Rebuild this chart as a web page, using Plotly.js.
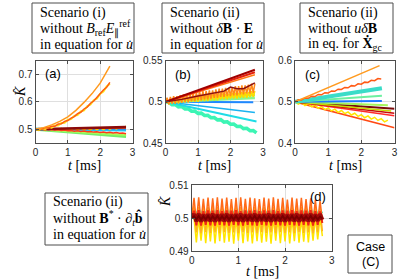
<!DOCTYPE html>
<html><head><meta charset="utf-8">
<script src="https://cdn.plot.ly/plotly-3.0.1.min.js"></script>
<style>html,body{margin:0;padding:0;background:#fff}#chart{width:399px;height:280px}</style>
</head><body><div id="chart"></div>
<script>
// ---------- shared time grids (ms) ----------
const T05 = [0,0.05,0.1,0.15,0.2,0.25,0.3,0.35,0.4,0.45,0.5,0.55,0.6,0.65,0.7,0.75,0.8,0.85,0.9,0.95,1,1.05,1.1,1.15,1.2,1.25,1.3,1.35,1.4,1.45,1.5,1.55,1.6,1.65,1.7,1.75,1.8,1.85,1.9,1.95,2,2.05,2.1,2.15,2.2,2.25,2.3,2.35,2.4,2.45,2.5,2.55,2.6,2.65,2.7,2.75,2.8];
const T10 = [0,0.1,0.2,0.3,0.4,0.5,0.6,0.7,0.8,0.9,1,1.1,1.2,1.3,1.4,1.5,1.6,1.7,1.8,1.9,2,2.1,2.2,2.3,2.4,2.5,2.6,2.7,2.8];

// ---------- tick labels ----------
const xTickVals = [0,1,2,3];
const xTickText = ['0','1','2','3'];
const aTickVals = [0.5,0.6,0.7];   const aTickText = ['0.5','0.6','0.7'];
const bTickVals = [0.45,0.5,0.55]; const bTickText = ['0.45','0.5','0.55'];
const cTickVals = [0.4,0.5,0.6];   const cTickText = ['0.4','0.5','0.6'];
const dTickVals = [0.49,0.5,0.51]; const dTickText = ['0.49','0.5','0.51'];

// ---------- panel (a) ----------
const a_t_orange = [0,0.25,0.5,0.75,1,1.25,1.5,1.75,2,2.3];
const a_orange = [0.5,0.506,0.516,0.529,0.545,0.569,0.598,0.630,0.668,0.730];
const a_orangezig = [0.500,0.503,0.501,0.506,0.505,0.511,0.511,0.519,0.520,0.529,0.532,0.541,0.546,0.557,0.562,0.574,0.581,0.595,0.603,0.617,0.627,0.643,0.653,0.671];
const a_yellowzig_hi = [0.500,0.499,0.503,0.501,0.508,0.506,0.514,0.514,0.523,0.524,0.535,0.537,0.549,0.552,0.565,0.569,0.584,0.590,0.606,0.612,0.630,0.638,0.656,0.666];
const a_t_end = [0,2.8];
const a_darkred = [0.5,0.508];
const a_red = [0.5,0.505];
const a_cyan = [0.5,0.497];
const a_blue = [0.5,0.4995];
const a_green = [0.5,0.474];
const a_lgreen = [0.5,0.479];
const a_yellowzig = [0.500,0.496,0.502,0.496,0.503,0.497,0.502,0.497,0.503,0.497,0.503,0.498,0.504,0.498,0.504,0.498,0.504,0.499,0.505,0.499,0.505,0.499,0.506,0.500,0.506,0.501,0.507,0.505,0.511];
const a_redzig = [0.5000,0.5014,0.4989,0.5003,0.4977,0.4992,0.4966,0.4980,0.4954,0.4969,0.4943,0.4957,0.4932,0.4946,0.4920,0.4935,0.4909,0.4923,0.4897,0.4912,0.4886,0.4900,0.4875,0.4889,0.4863,0.4878,0.4852,0.4866,0.4840];

// ---------- panel (b) ----------
const b_t_end = [0,2.75];
const b_darkred = [0.5,0.539];
const b_red = [0.5,0.536];
const b_orange = [0.5,0.533];
const b_t_brown = [0,0.5,1,1.5,1.8,2.0,2.2,2.4,2.6,2.75];
const b_brown = [0.5,0.503,0.507,0.511,0.513,0.518,0.516,0.516,0.520,0.523];
const b_orangezig = [0.500,0.505,0.497,0.506,0.498,0.507,0.498,0.507,0.499,0.508,0.499,0.509,0.500,0.509,0.500,0.510,0.501,0.511,0.501,0.511,0.502,0.512,0.502,0.513,0.503,0.513,0.503,0.514,0.504,0.514,0.505,0.515,0.505,0.516,0.506,0.516,0.506,0.517,0.507,0.517,0.507,0.518,0.508,0.519,0.508,0.519,0.509,0.520,0.509,0.520,0.510,0.521,0.510,0.522,0.511,0.522];
const b_yellowzig = [0.500,0.504,0.497,0.504,0.498,0.505,0.498,0.505,0.498,0.505,0.499,0.506,0.499,0.506,0.499,0.506,0.500,0.507,0.500,0.507,0.500,0.507,0.501,0.508,0.501,0.508,0.501,0.508,0.502,0.509,0.502,0.509,0.502,0.509,0.503,0.510,0.503,0.510,0.503,0.510,0.504,0.511,0.504,0.511,0.504,0.511,0.505,0.512,0.505,0.512,0.505,0.512,0.506,0.513,0.506,0.513];
const b_lime = [0.5,0.509];
const b_lgreen = [0.5,0.505];
const b_t_blue = [0,2.7];
const b_blue = [0.5,0.4995];
const b_sky = [0.5,0.487];
const b_t_cyan = [0,2.8];
const b_cyan = [0.5,0.476];
const b_aquazig = [0.5000,0.4995,0.4966,0.4968,0.4939,0.4942,0.4913,0.4916,0.4886,0.4889,0.4860,0.4863,0.4834,0.4836,0.4807,0.4810,0.4781,0.4784,0.4754,0.4757,0.4728,0.4731,0.4702,0.4704,0.4675,0.4678,0.4649,0.4652,0.4622];

// ---------- panel (c) ----------
const c_t_orange = [0,2.55];
const c_orange = [0.5,0.588];
const c_orangezig = [0.5000,0.5051,0.5043,0.5094,0.5086,0.5137,0.5128,0.5180,0.5171,0.5223,0.5214,0.5265,0.5257,0.5308,0.5300,0.5351,0.5342,0.5394,0.5385,0.5437,0.5428,0.5479,0.5471,0.5522,0.5514,0.5565,0.5556];
const c_t_mid = [0,2.62];
const c_teal = [0.5,0.533];
const c_mint = [0.5,0.515];
const c_blue = [0.5,0.502];
const c_t_lime = [0,2.8];
const c_lime = [0.5,0.492];
const c_t_olive = [0,2.9];
const c_olive = [0.5,0.478];
const c_t_full = [0,3];
const c_darkred = [0.5,0.483];
const c_red = [0.5,0.472];
const c_red2 = [0.5,0.466];
const c_yellowzig = [0.5000,0.4944,0.4987,0.4911,0.4954,0.4878,0.4921,0.4845,0.4888,0.4812,0.4855,0.4779,0.4822,0.4746,0.4789,0.4713,0.4756,0.4680,0.4723,0.4647,0.4690,0.4614,0.4657,0.4581,0.4624,0.4548,0.4591,0.4515,0.4558];
const c_t_low = [0,0.5,1,1.5,2,2.5,3];
const c_orangered = [0.5,0.4895,0.479,0.4685,0.458,0.4475,0.437];

// ---------- panel (d) ----------
const d_yellow = [0.5000,
0.5001,0.4926,0.4999,0.4931,0.5002,0.4924,0.4998,0.4929,0.5001,0.4923,
0.4999,0.4930,0.5002,0.4925,0.4998,0.4928,0.5001,0.4922,0.4999,0.4931,
0.5000,0.4924,0.5002,0.4929,0.4998,0.4923,0.5001,0.4930,0.4999,0.4925,
0.5002,0.4928,0.4998,0.4922,0.5001,0.4931,0.4999,0.4924,0.5000,0.4929,
0.5002,0.4923,0.4998,0.4930,0.5001,0.4925,0.4999,0.4928,0.5002,0.4926,
0.4999,0.4931,0.5001,0.4935,0.5000,0.4945];
const d_teal = [0.5000,
0.5030,0.5012,0.5031,0.5011,0.5029,0.5013,0.5032,0.5012,0.5030,0.5011,
0.5031,0.5013,0.5029,0.5012,0.5032,0.5011,0.5030,0.5013,0.5031,0.5012,
0.5029,0.5011,0.5032,0.5013,0.5030,0.5012,0.5031,0.5011,0.5029,0.5013,
0.5032,0.5012,0.5030,0.5011,0.5031,0.5013,0.5029,0.5012,0.5032,0.5011,
0.5030,0.5013,0.5031,0.5012,0.5029,0.5011,0.5032,0.5013,0.5030,0.5012,
0.5031,0.5011,0.5029,0.5013,0.5027,0.5015];
const d_lightorange = [0.5000,
0.5036,0.4956,0.5034,0.4954,0.5037,0.4957,0.5033,0.4955,0.5036,0.4956,
0.5034,0.4954,0.5037,0.4957,0.5035,0.4955,0.5033,0.4956,0.5036,0.4954,
0.5034,0.4957,0.5037,0.4955,0.5035,0.4956,0.5033,0.4954,0.5036,0.4957,
0.5034,0.4955,0.5037,0.4956,0.5035,0.4954,0.5033,0.4957,0.5036,0.4955,
0.5034,0.4956,0.5037,0.4954,0.5035,0.4957,0.5033,0.4955,0.5036,0.4956,
0.5034,0.4954,0.5035,0.4957,0.5032,0.4960];
const d_orange = [0.5000,
0.5061,0.4988,0.5063,0.4987,0.5058,0.4989,0.5062,0.4987,0.5060,0.4988,
0.5063,0.4986,0.5059,0.4988,0.5062,0.4987,0.5057,0.4989,0.5061,0.4987,
0.5063,0.4988,0.5058,0.4986,0.5062,0.4988,0.5060,0.4987,0.5057,0.4989,
0.5062,0.4987,0.5059,0.4988,0.5063,0.4986,0.5058,0.4988,0.5061,0.4987,
0.5056,0.4989,0.5062,0.4987,0.5059,0.4988,0.5061,0.4986,0.5057,0.4988,
0.5060,0.4987,0.5055,0.4989,0.5052,0.4992];
const d_red = [0.5000,
0.5022,0.4978,0.5024,0.4977,0.5021,0.4979,0.5023,0.4978,0.5022,0.4977,
0.5024,0.4979,0.5021,0.4978,0.5023,0.4977,0.5022,0.4979,0.5024,0.4978,
0.5021,0.4977,0.5023,0.4979,0.5022,0.4978,0.5024,0.4977,0.5021,0.4979,
0.5023,0.4978,0.5022,0.4977,0.5024,0.4979,0.5021,0.4978,0.5023,0.4977,
0.5022,0.4979,0.5024,0.4978,0.5021,0.4977,0.5023,0.4979,0.5022,0.4978,
0.5024,0.4977,0.5021,0.4979,0.5020,0.4985];
const d_dark = [0.5000,
0.5012,0.4990,0.5013,0.4989,0.5011,0.4991,0.5012,0.4990,0.5013,0.4989,
0.5011,0.4991,0.5012,0.4990,0.5013,0.4989,0.5011,0.4991,0.5012,0.4990,
0.5013,0.4989,0.5011,0.4991,0.5012,0.4990,0.5013,0.4989,0.5011,0.4991,
0.5012,0.4990,0.5013,0.4989,0.5011,0.4991,0.5012,0.4990,0.5013,0.4989,
0.5011,0.4991,0.5012,0.4990,0.5013,0.4989,0.5011,0.4991,0.5012,0.4990,
0.5013,0.4989,0.5011,0.4991,0.5012,0.4995];
const d_darker = [0.5000,
0.5005,0.4996,0.5006,0.4995,0.5005,0.4996,0.5006,0.4995,0.5005,0.4996,
0.5006,0.4995,0.5005,0.4996,0.5006,0.4995,0.5005,0.4996,0.5006,0.4995,
0.5005,0.4996,0.5006,0.4995,0.5005,0.4996,0.5006,0.4995,0.5005,0.4996,
0.5006,0.4995,0.5005,0.4996,0.5006,0.4995,0.5005,0.4996,0.5006,0.4995,
0.5005,0.4996,0.5006,0.4995,0.5005,0.4996,0.5006,0.4995,0.5005,0.4996,
0.5006,0.4995,0.5005,0.4996,0.5004,0.4998];

// ---------- build ----------
const W = 399, H = 280;
const px = v => v / W, py = v => 1 - v / H;
function ln(x, y, color, width, ax) {
  return {type:'scatter', mode:'lines', x:x, y:y, xaxis:'x'+ax, yaxis:'y'+ax,
          line:{color:color, width:width}, hoverinfo:'skip', showlegend:false};
}
const traces = [
  // (a)
  ln(a_t_end, a_green, '#74ee6a', 3, ''),
  ln(a_t_end, a_lgreen, '#a8fa5a', 2, ''),
  ln(a_t_end, a_cyan, '#22cdf5', 3, ''),
  ln(a_t_end, a_blue, '#2b95f0', 1.5, ''),
  ln(T10, a_yellowzig, '#ffe200', 1.5, ''),
  ln(T10, a_redzig, '#ff3b1a', 1.5, ''),
  ln(a_t_end, a_red, '#d02a10', 1.5, ''),
  ln(a_t_end, a_darkred, '#8c0a0a', 2.5, ''),
  ln(T10, a_yellowzig_hi, '#ffe81a', 2, ''),
  ln(T10, a_orangezig, '#ff5a14', 1.5, ''),
  ln(a_t_orange, a_orange, '#ff9a1f', 1.5, ''),
  // (b)
  ln(T10, b_aquazig, '#3cf5b4', 3.5, '2'),
  ln(b_t_cyan, b_cyan, '#1edce6', 2, '2'),
  ln(b_t_end, b_sky, '#1ab2f0', 1.5, '2'),
  ln(b_t_blue, b_blue, '#1e88ff', 2, '2'),
  ln(b_t_end, b_lgreen, '#8cf58c', 3, '2'),
  ln(b_t_end, b_lime, '#b8f540', 3, '2'),
  ln(T05, b_yellowzig, '#ffd900', 1.5, '2'),
  ln(T05, b_orangezig, '#ff8a1a', 1.5, '2'),
  ln(b_t_end, b_orange, '#ff7a14', 1.5, '2'),
  ln(b_t_end, b_red, '#e8210a', 2, '2'),
  ln(b_t_end, b_darkred, '#a00000', 2, '2'),
  ln(b_t_brown, b_brown, '#8b1010', 1.5, '2'),
  // (c)
  ln(c_t_low, c_orangered, '#ff4a14', 1.5, '3'),
  ln(T10, c_yellowzig, '#ffe600', 1.5, '3'),
  ln(c_t_full, c_red2, '#ff2a2a', 1.5, '3'),
  ln(c_t_full, c_red, '#c80a0a', 1.5, '3'),
  ln(c_t_full, c_darkred, '#7a0a0a', 2, '3'),
  ln(c_t_olive, c_olive, '#c8d800', 1.5, '3'),
  ln(c_t_lime, c_lime, '#a6f55a', 2, '3'),
  ln(c_t_mid, c_blue, '#1e78ff', 2, '3'),
  ln(c_t_mid, c_mint, '#6cf0a0', 2, '3'),
  ln(c_t_mid, c_teal, '#3adcc8', 4, '3'),
  ln(T10, c_orangezig, '#ff5a14', 1.5, '3'),
  ln(c_t_orange, c_orange, '#ff9a1f', 1.5, '3'),
  // (d)
  ln(T05, d_yellow, '#ffe600', 1.5, '4'),
  ln(T05, d_teal, '#3ce6b4', 1.5, '4'),
  ln(T05, d_lightorange, '#ffb020', 1.5, '4'),
  ln(T05, d_orange, '#ff6a1a', 1.5, '4'),
  ln(T05, d_red, '#f02814', 2, '4'),
  ln(T05, d_dark, '#a00a0a', 4, '4'),
  ln(T05, d_darker, '#780000', 2, '4')
];

const common = {
  showgrid:true, gridcolor:'#dfdfdf', gridwidth:1, zeroline:false,
  showline:true, linecolor:'#4d4d4d', linewidth:1, mirror:'ticks',
  ticks:'inside', ticklen:3, tickcolor:'#4d4d4d',
  tickfont:{family:'Liberation Sans, Arial, sans-serif', size:10, color:'#262626'},
  fixedrange:true
};
function xa(l, r, anchor) {
  return Object.assign({}, common, {domain:[px(l), px(r)], range:[0,3], anchor:anchor,
    tickmode:'array', tickvals:xTickVals, ticktext:xTickText});
}
function ya(t, b, rng, tv, tt, anchor) {
  return Object.assign({}, common, {domain:[py(b), py(t)], range:rng, anchor:anchor,
    tickmode:'array', tickvals:tv, ticktext:tt});
}
const TOP = 60.7, BOT = 143;
const layout = {
  width:W, height:H, margin:{l:0,r:0,t:0,b:0},
  paper_bgcolor:'#fff', plot_bgcolor:'#fff', showlegend:false,
  xaxis:  xa(35.5, 132.5, 'y'),
  yaxis:  ya(TOP, BOT, [0.45,0.75], aTickVals, aTickText, 'x'),
  xaxis2: xa(165.5, 263, 'y2'),
  yaxis2: ya(TOP, BOT, [0.45,0.55], bTickVals, bTickText, 'x2'),
  xaxis3: xa(295, 394.5, 'y3'),
  yaxis3: ya(TOP, BOT, [0.4,0.6], cTickVals, cTickText, 'x3'),
  xaxis4: xa(191.7, 331.7, 'y4'),
  yaxis4: ya(185, 251, [0.49,0.51], dTickVals, dTickText, 'x4'),
  shapes: [],
  annotations: []
};
function box(l, t, r, b) {
  layout.shapes.push({type:'rect', xref:'paper', yref:'paper', x0:px(l), x1:px(r), y0:py(b), y1:py(t),
    line:{color:'#4d4d4d', width:1}, fillcolor:'#fff', layer:'above'});
}
const SERIF = 'Liberation Serif, Times New Roman, serif';
const SANS = 'Liberation Sans, Arial, sans-serif';
function txt(x, y, text, opt) {
  opt = opt || {};
  layout.annotations.push({xref:'paper', yref:'paper', x:px(x), y:py(y), text:text, showarrow:false,
    xanchor:opt.xa || 'left', yanchor:'middle', textangle:opt.angle || 0,
    font:{family:opt.fam || SERIF, size:opt.size || 14, color:'#000'}});
}
// scenario boxes
box(32, 3, 134, 53);
txt(38, 13, 'Scenario (i)');
txt(38, 29, 'without <i>B</i><sub>ref</sub><i>E</i><sub>∥</sub><sup>ref</sup>');
txt(38, 44, 'in equation for <i>u̇</i>');
box(162, 3, 264, 53);
txt(168, 13, 'Scenario (ii)');
txt(168, 29, 'without <i>δ</i><b>B</b> · <b>E</b>');
txt(168, 44, 'in equation for <i>u̇</i>');
box(300, 3, 393, 53);
txt(306, 13, 'Scenario (ii)');
txt(306, 29, 'without <i>uδ</i><b>B</b>');
txt(306, 44, 'in eq. for <b>Ẋ</b><sub>gc</sub>');
box(45, 193, 148, 245);
txt(51, 202, 'Scenario (ii)');
txt(51, 218, 'without <b>B</b><sup>*</sup> · ∂<sub><i>t</i></sub><b>b̂</b>');
txt(51, 234.5, 'in equation for <i>u̇</i>');
box(348, 235, 392, 273);
txt(370, 247, 'Case', {xa:'center', fam:SANS, size:12.5});
txt(370, 262, '(C)', {xa:'center', fam:SANS, size:12.5});
// panel labels
txt(43, 74, '(a)', {fam:SANS, size:13});
txt(173, 75, '(b)', {fam:SANS, size:13});
txt(303, 75, '(c)', {fam:SANS, size:13});
txt(308, 196, '(d)', {fam:SANS, size:13});
// axis titles
txt(84, 165, '<i>t</i> [ms]', {xa:'center'});
txt(214, 165, '<i>t</i> [ms]', {xa:'center'});
txt(345, 165, '<i>t</i> [ms]', {xa:'center'});
txt(262, 271, '<i>t</i> [ms]', {xa:'center'});
txt(21, 92, '<i>K̂</i>', {xa:'center', angle:-90});
txt(165, 202, '<i>K̂</i>', {xa:'center', angle:-90});

Plotly.newPlot('chart', traces, layout, {displayModeBar:false, staticPlot:true});
</script></body></html>
